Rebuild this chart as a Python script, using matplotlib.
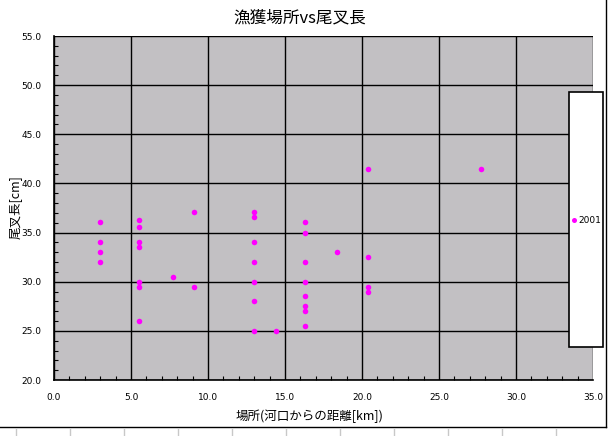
import matplotlib.pyplot as plt
from matplotlib.lines import Line2D
from matplotlib.patches import Rectangle
from matplotlib.ticker import MultipleLocator, FormatStrFormatter

plt.rcParams['font.family'] = ['Noto Sans CJK JP', 'DejaVu Sans']

# distance from river mouth [km] and fork length [cm], year 2001
dist_km = [3.0, 3.0, 3.0, 3.0,
           5.5, 5.5, 5.5, 5.5, 5.5, 5.5, 5.5,
           7.7,
           9.1, 9.1,
           13.0, 13.0, 13.0, 13.0, 13.0, 13.0, 13.0,
           14.4,
           16.3, 16.3, 16.3, 16.3, 16.3, 16.3, 16.3, 16.3,
           18.4,
           20.4, 20.4, 20.4, 20.4,
           27.7]
fork_len = [36.1, 34.0, 33.0, 32.0,
            36.3, 35.6, 34.0, 33.5, 30.0, 29.5, 26.0,
            30.5,
            37.1, 29.5,
            37.1, 36.6, 34.0, 32.0, 30.0, 28.0, 25.0,
            25.0,
            36.1, 35.0, 32.0, 30.0, 28.5, 27.5, 27.0, 25.5,
            33.0,
            41.5, 32.5, 29.5, 29.0,
            41.5]
series_name = '2001'

W, H = 609, 436
fig = plt.figure(figsize=(W / 100, H / 100), dpi=100)
fig.patch.set_facecolor('white')

ax = fig.add_axes([54 / W, 1 - 380 / H, 539 / W, 344 / H])
ax.set_facecolor('#c2c0c3')
ax.scatter(dist_km, fork_len, s=16, color='#ff00ff', marker='o',
           linewidths=0, zorder=3, label=series_name)

ax.set_xlim(0, 35)
ax.set_ylim(20, 55)
ax.xaxis.set_major_locator(MultipleLocator(5))
ax.yaxis.set_major_locator(MultipleLocator(5))
ax.xaxis.set_minor_locator(MultipleLocator(1))
ax.yaxis.set_minor_locator(MultipleLocator(1))
ax.xaxis.set_major_formatter(FormatStrFormatter('%.1f'))
ax.yaxis.set_major_formatter(FormatStrFormatter('%.1f'))
ax.grid(True, which='major', color='black', linewidth=1.0)
ax.set_axisbelow(True)
ax.tick_params(which='major', length=0, labelsize=6.5, pad=9)
ax.tick_params(which='minor', direction='in', length=3, width=0.8)
for lab in ax.get_xticklabels() + ax.get_yticklabels():
    lab.set_family('DejaVu Sans')
for side in ['left', 'bottom']:
    ax.spines[side].set_linewidth(1.2)
for side in ['top', 'right']:
    ax.spines[side].set_visible(False)

ax.set_xlabel('場所(河口からの距離[km])', fontsize=9)
ax.set_ylabel('尾叉長[cm]', fontsize=9)
ax.xaxis.set_label_coords((310 - 54) / 539, -(409 - 380) / 344)
ax.yaxis.set_label_coords(-(54 - 22) / 539, 0.5 + (208 - 207) / 344)

fig.text(300 / W, 1 - 18 / H, '漁獲場所vs尾叉長', fontsize=12,
         ha='center', va='center')

# legend box
fig.patches.append(Rectangle((569 / W, 1 - 347 / H), 34 / W, 255 / H,
                             transform=fig.transFigure, facecolor='white',
                             edgecolor='black', linewidth=1.2, zorder=5))
leg = fig.legend(loc='center', bbox_to_anchor=(586 / W, 1 - 220 / H),
                 frameon=False, fontsize=6.5, handletextpad=0.1,
                 handlelength=0.8, borderpad=0, markerscale=0.9)
for t in leg.get_texts():
    t.set_family('DejaVu Sans')
leg.set_zorder(6)

# chart border and sheet cell lines
fig.add_artist(Line2D([606 / W, 606 / W], [1 - 427 / H, 1], color='black', linewidth=1))
fig.add_artist(Line2D([0, 606 / W], [1 - 427 / H, 1 - 427 / H], color='black', linewidth=1))
for cx in [16, 70, 124, 178, 232, 286, 340, 394, 448, 502, 556]:
    fig.add_artist(Line2D([cx / W, cx / W], [0, 1 - 429 / H], color='#c8c8c8', linewidth=1))

fig.savefig('out.png', dpi=100)
